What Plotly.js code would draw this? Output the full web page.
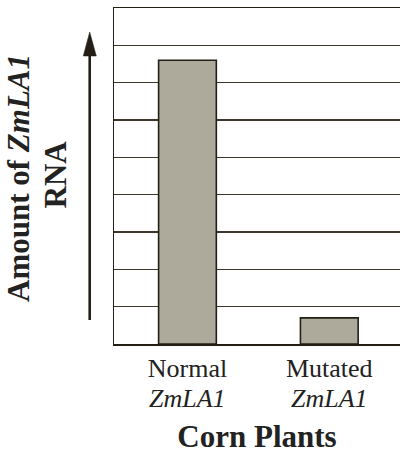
<!DOCTYPE html>
<html>
<head>
<meta charset="utf-8">
<script src="https://cdn.plot.ly/plotly-3.0.1.min.js"></script>
<style>
  html, body { margin: 0; padding: 0; background: #ffffff; overflow: hidden; }
  #chart { width: 400px; height: 454px; }
</style>
</head>
<body>
<div id="chart"></div>
<script>
// ---- data ----
const categories = ['Normal', 'Mutated'];
const geneName = 'ZmLA1';
const rnaAmount = [7.6, 0.7];
const tickLabels = ['Normal', 'Mutated'];
const geneLabels = ['ZmLA1', 'ZmLA1'];
const xTitle = 'Corn Plants';
const yTitleLine1 = 'Amount of <i>' + geneName + '</i>';
const yTitleLine2 = 'RNA';

// ---- layout helpers (pixel -> paper) ----
const W = 400, H = 454;
const M = { l: 114, r: 0, t: 8, b: 110 };
const plotW = W - M.l - M.r, plotH = H - M.t - M.b;
const px = x => (x - M.l) / plotW;
const py = y => (H - M.b - y) / plotH;

const ink = '#231f17';
const textColor = '#222222';
const serif = 'Liberation Serif, Times New Roman, serif';

const trace = {
  type: 'bar',
  x: categories,
  y: rnaAmount,
  width: 0.407,
  marker: { color: '#adaa9b', line: { color: ink, width: 1.6 } },
  hoverinfo: 'skip'
};

const annotations = [
  {
    xref: 'paper', yref: 'paper',
    x: px(18), y: py(178),
    xanchor: 'center', yanchor: 'middle',
    textangle: -90, showarrow: false,
    text: '<b>' + yTitleLine1 + '</b>',
    font: { family: serif, size: 31, color: textColor, weight: 'bold' }
  },
  {
    xref: 'paper', yref: 'paper',
    x: px(54.5), y: py(175),
    xanchor: 'center', yanchor: 'middle',
    textangle: -90, showarrow: false,
    text: '<b>' + yTitleLine2 + '</b>',
    font: { family: serif, size: 31, color: textColor, weight: 'bold' }
  }
];
categories.forEach((c, i) => {
  annotations.push({
    xref: 'x', yref: 'paper',
    x: c, y: py(398),
    xanchor: 'center', yanchor: 'middle',
    showarrow: false,
    text: '<i>' + geneLabels[i] + '</i>',
    font: { family: serif, size: 26, color: textColor }
  });
});

const layout = {
  width: W, height: H,
  margin: M,
  paper_bgcolor: '#ffffff',
  plot_bgcolor: '#ffffff',
  showlegend: false,
  xaxis: {
    type: 'category',
    range: [-0.518, 1.4986],
    tickvals: categories,
    ticktext: tickLabels,
    tickfont: { family: serif, size: 26, color: textColor },
    ticks: '',
    ticklen: 0,
    showgrid: false,
    zeroline: false,
    showline: true,
    linecolor: ink,
    linewidth: 1.5,
    mirror: true,
    fixedrange: true,
    title: {
      text: '<b>' + xTitle + '</b>',
      font: { family: serif, size: 31, color: textColor, weight: 'bold' },
      standoff: 49
    }
  },
  yaxis: {
    range: [0, 9],
    tick0: 0,
    dtick: 1,
    showticklabels: false,
    ticks: '',
    showgrid: true,
    gridcolor: '#3b352c',
    gridwidth: 1.3,
    zeroline: false,
    showline: true,
    linecolor: ink,
    linewidth: 1.5,
    fixedrange: true
  },
  annotations: annotations,
  shapes: [
    {
      type: 'line', xref: 'paper', yref: 'paper',
      x0: px(89.7), x1: px(89.7), y0: py(320), y1: py(52),
      line: { color: ink, width: 2.6 }
    },
    {
      type: 'path', xref: 'paper', yref: 'paper',
      path: 'M' + px(83.3) + ',' + py(56) + ' L' + px(89.7) + ',' + py(32) + ' L' + px(96.3) + ',' + py(56) + ' Z',
      fillcolor: ink,
      line: { color: ink, width: 0.5 }
    }
  ]
};

Plotly.newPlot('chart', [trace], layout, { displayModeBar: false, staticPlot: true });
</script>
</body>
</html>
